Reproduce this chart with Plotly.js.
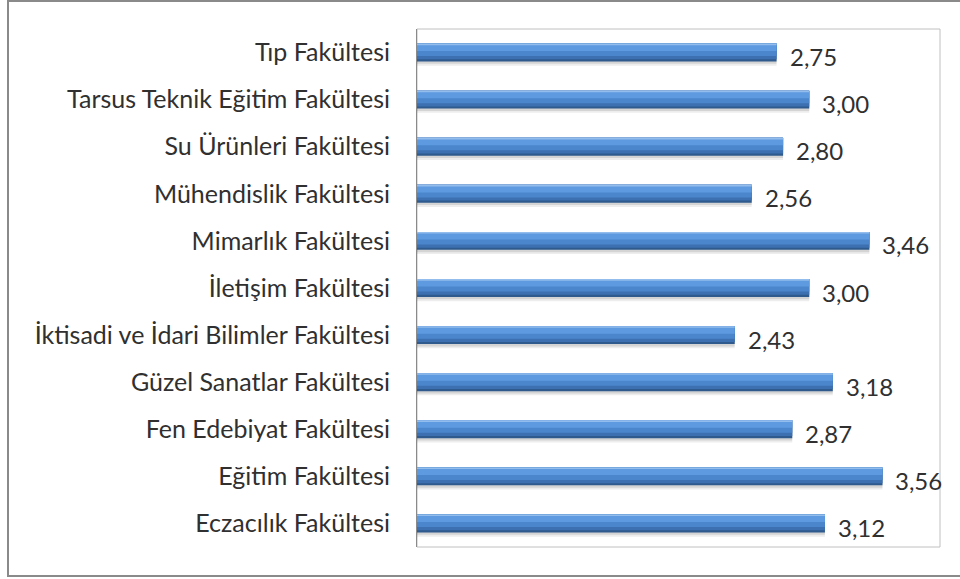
<!DOCTYPE html>
<html>
<head>
<meta charset="utf-8">
<script src="https://cdn.plot.ly/plotly-3.0.1.min.js"></script>
<style>
  html, body { margin: 0; padding: 0; background: #fff; }
  #wrap { position: relative; width: 960px; height: 579px; }
  #chart { width: 960px; height: 579px; }
  #frame { position: absolute; left: 7px; top: 0px; width: 960px; height: 577px;
           border-left: 2px solid #8a8a8a; border-top: 2px solid #8a8a8a; border-bottom: 2px solid #8a8a8a;
           box-sizing: border-box; pointer-events: none; }
</style>
</head>
<body>
<div id="wrap">
  <div id="chart"></div>
  <div id="frame"></div>
</div>
<script>
// Categories listed top to bottom as in the picture
const categories = [
  "Tıp Fakültesi",
  "Tarsus Teknik Eğitim Fakültesi",
  "Su Ürünleri Fakültesi",
  "Mühendislik Fakültesi",
  "Mimarlık Fakültesi",
  "İletişim Fakültesi",
  "İktisadi ve İdari Bilimler Fakültesi",
  "Güzel Sanatlar Fakültesi",
  "Fen Edebiyat Fakültesi",
  "Eğitim Fakültesi",
  "Eczacılık Fakültesi"
];
const values = [2.75, 3.00, 2.80, 2.56, 3.46, 3.00, 2.43, 3.18, 2.87, 3.56, 3.12];
const valueLabels = values.map(v => v.toFixed(2).replace('.', ','));

const FONT = 'Lato, "Open Sans", sans-serif';
const W = 0.38;

function barLayer(color, offset, width) {
  return {
    type: 'bar', orientation: 'h',
    x: values, y: categories,
    offset: offset, width: width,
    marker: { color: color, line: { width: 0 } },
    hoverinfo: 'skip', showlegend: false
  };
}

const top0 = -W / 2;
const traces = [
  barLayer('rgba(0,0,0,0.07)', top0 + 0.09, W),     // soft shadow
  barLayer('rgba(0,0,0,0.10)', top0 + 0.05, W),     // shadow
  barLayer('#2e5a8e', top0, W),                      // dark bottom edge
  barLayer('#3c70b0', top0, W * 0.88),               // lower body
  barLayer('#4b86cc', top0, W * 0.70),               // main face
  barLayer('#5e9ae0', top0, W * 0.42),               // upper light band
  barLayer('#93bdec', top0, W * 0.09)                // top highlight
];

const annotations = values.map((v, i) => ({
  x: v, y: categories[i], xref: 'x', yref: 'y',
  text: valueLabels[i], showarrow: false,
  xanchor: 'left', yanchor: 'middle', xshift: 11, yshift: -4,
  font: { family: FONT, size: 24, color: '#303030' }
}));

const layout = {
  width: 960, height: 579,
  margin: { l: 417, r: 20, t: 29, b: 32, pad: 0 },
  paper_bgcolor: '#ffffff', plot_bgcolor: '#ffffff',
  barmode: 'overlay',
  showlegend: false,
  xaxis: { range: [0, 4], visible: false, showgrid: false, zeroline: false, fixedrange: true },
  yaxis: {
    type: 'category', autorange: 'reversed',
    showline: true, linecolor: '#8a8a8a', linewidth: 1,
    ticks: '', showgrid: false, zeroline: false,
    ticklabelstandoff: 21,
    tickfont: { family: FONT, size: 25, color: '#303030' }
  },
  shapes: [{
    type: 'rect', xref: 'paper', yref: 'paper', x0: 0, x1: 1, y0: 0, y1: 1,
    line: { color: '#c0c0c0', width: 1 }, fillcolor: 'rgba(0,0,0,0)', layer: 'below'
  }],
  annotations: annotations
};

Plotly.newPlot('chart', traces, layout, { displayModeBar: false, staticPlot: true });
</script>
</body>
</html>
